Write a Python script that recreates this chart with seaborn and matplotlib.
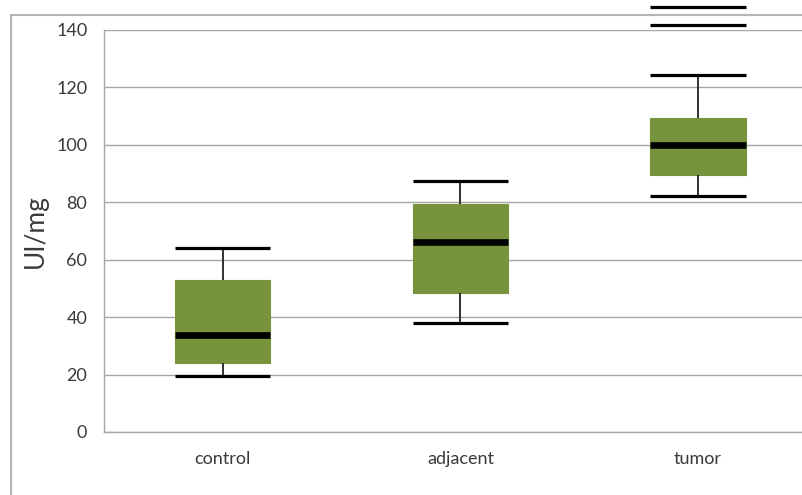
import numpy as np
import pandas as pd
import matplotlib
matplotlib.use("Agg")
import matplotlib.pyplot as plt
from matplotlib.patches import Rectangle
import seaborn as sns

categories = ["control", "adjacent", "tumor"]
mins    = [19.5, 38.1, 82.2]
q1s     = [24.0, 48.4, 89.5]
medians = [33.8, 66.3, 100.0]
q3s     = [52.8, 79.4, 109.5]
maxs    = [64.2, 87.4, 124.3]
outliers = {"tumor": [141.9, 148.0]}
yticks = [0, 20, 40, 60, 80, 100, 120, 140]

# five-number summaries as rows (quartiles of 5 points = the values themselves)
rows = []
for c, a, b, m, d, e in zip(categories, mins, q1s, medians, q3s, maxs):
    for v in (a, b, m, d, e):
        rows.append({"group": c, "value": v})
df = pd.DataFrame(rows)

sns.set_style("white")
plt.rcParams["font.family"] = ["Lato", "DejaVu Sans"]

green = "#77933C"
grid = "#a6a6a6"
txt = "#3a3a3a"
CAP_LW = 2.3

fig = plt.figure(figsize=(8.03, 4.95), dpi=100)
ax = fig.add_axes([104 / 803, 63 / 495, 3 * 237.6 / 803, 402 / 495])

sns.boxplot(data=df, x="group", y="value", order=categories, ax=ax,
            whis=(0, 100), width=0.4, color=green, linecolor="black",
            saturation=1, showfliers=False,
            boxprops=dict(facecolor=green, edgecolor=green, linewidth=0.8),
            medianprops=dict(color="black", linewidth=4.8, solid_capstyle="butt"),
            whiskerprops=dict(color="#222222", linewidth=1.3),
            capprops=dict(color="black", linewidth=CAP_LW, solid_capstyle="butt"))

# make caps as wide as boxes
for line in ax.lines:
    xd = line.get_xdata()
    yd = line.get_ydata()
    if len(xd) == 2 and yd[0] == yd[1] and abs(xd[1] - xd[0]) < 0.39 and line.get_linewidth() == CAP_LW:
        cx = (xd[0] + xd[1]) / 2
        line.set_xdata([cx - 0.2, cx + 0.2])

for c, vals in outliers.items():
    i = categories.index(c)
    for v in vals:
        ax.plot([i - 0.2, i + 0.2], [v, v], color="black", lw=CAP_LW,
                solid_capstyle="butt", clip_on=False, zorder=5)

ax.set_ylim(0, 140)
ax.set_xlim(-0.5, 2.5)
ax.set_yticks(yticks)
ax.set_yticklabels([str(t) for t in yticks])
ax.yaxis.grid(True, color=grid, lw=1.0)
ax.set_axisbelow(True)

ax.set_xticks(range(len(categories)))
ax.set_xticklabels(categories)
ax.set_xticks([-0.5, 0.5, 1.5, 2.5], minor=True)
ax.tick_params(axis="x", which="major", length=0, pad=14, labelsize=13, labelcolor=txt)
ax.tick_params(axis="x", which="minor", length=6, width=1, color=grid, direction="out")
ax.tick_params(axis="y", length=6, width=1, color=grid, direction="out",
               labelsize=13, labelcolor=txt, pad=6)

for s in ["top", "right"]:
    ax.spines[s].set_visible(False)
for s in ["left", "bottom"]:
    ax.spines[s].set_color(grid)
    ax.spines[s].set_linewidth(1.0)

ax.set_xlabel("")
ax.set_ylabel("UI/mg", fontsize=19, color=txt, labelpad=6)

# chart-area border
fig.add_artist(Rectangle((11 / 803, -0.2), 1.2, (495 - 15) / 495 + 0.2,
                         transform=fig.transFigure, fill=False,
                         edgecolor="#b5b5b5", lw=1.5, zorder=0))

fig.savefig("out.png", dpi=100)
